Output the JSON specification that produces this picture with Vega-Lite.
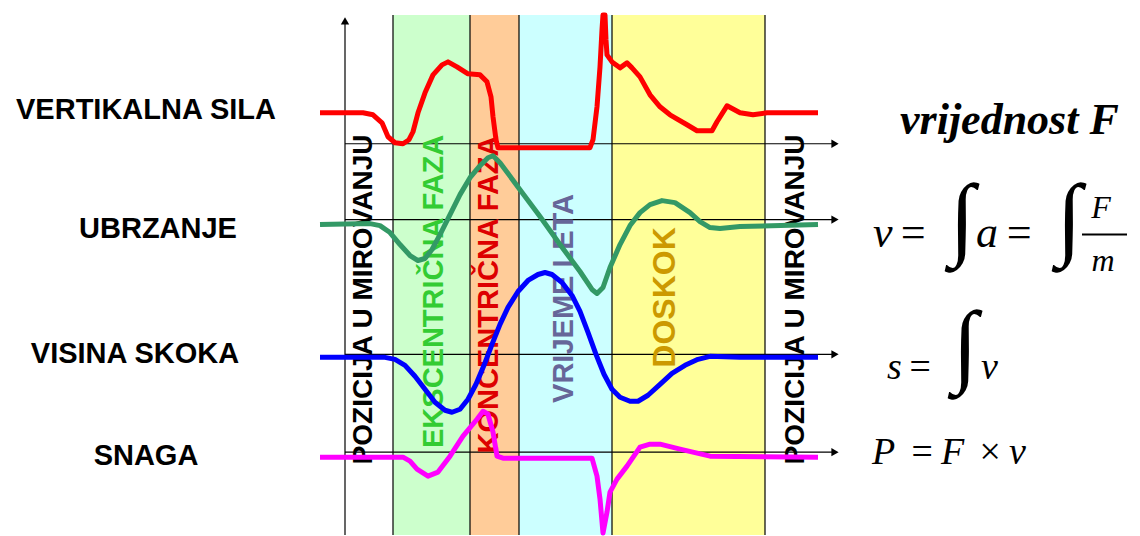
{
  "$schema": "https://vega.github.io/schema/vega-lite/v6.json",
  "width": 1140,
  "height": 536,
  "autosize": {"type": "fit", "contains": "padding"},
  "padding": 0,
  "background": "white",
  "config": {"view": {"stroke": null}},
  "resolve": {"scale": {"color": "independent"}},
  "datasets": {
    "bands": [
      {"phase": "eks", "t0": 393, "t1": 470, "top": 15, "bottom": 536},
      {"phase": "kon", "t0": 470, "t1": 519, "top": 15, "bottom": 536},
      {"phase": "let", "t0": 519, "t1": 612, "top": 15, "bottom": 536},
      {"phase": "dos", "t0": 612, "t1": 765, "top": 15, "bottom": 536}
    ],
    "vlines": [
      {"t": 345, "top": 22, "bottom": 536},
      {"t": 393, "top": 15, "bottom": 536},
      {"t": 470, "top": 15, "bottom": 536},
      {"t": 519, "top": 15, "bottom": 536},
      {"t": 612, "top": 15, "bottom": 536},
      {"t": 765, "top": 15, "bottom": 536}
    ],
    "hlines": [
      {"v": 144, "t0": 345, "t1": 832, "tip": 835},
      {"v": 220, "t0": 345, "t1": 832, "tip": 835},
      {"v": 355, "t0": 345, "t1": 832, "tip": 835},
      {"v": 453, "t0": 345, "t1": 832, "tip": 835}
    ],
    "curves": [
      {"s": "F", "t": 320, "v": 113}, {"s": "F", "t": 363, "v": 113}, {"s": "F", "t": 373, "v": 115}, {"s": "F", "t": 382, "v": 123},
      {"s": "F", "t": 388, "v": 137}, {"s": "F", "t": 395, "v": 143}, {"s": "F", "t": 403, "v": 144}, {"s": "F", "t": 409, "v": 140},
      {"s": "F", "t": 413, "v": 132}, {"s": "F", "t": 418, "v": 113}, {"s": "F", "t": 425, "v": 93}, {"s": "F", "t": 433, "v": 75},
      {"s": "F", "t": 442, "v": 65}, {"s": "F", "t": 448, "v": 62}, {"s": "F", "t": 457, "v": 67}, {"s": "F", "t": 468, "v": 74},
      {"s": "F", "t": 480, "v": 75}, {"s": "F", "t": 487, "v": 82}, {"s": "F", "t": 491, "v": 97}, {"s": "F", "t": 493, "v": 117},
      {"s": "F", "t": 496, "v": 140}, {"s": "F", "t": 498, "v": 148}, {"s": "F", "t": 507, "v": 148}, {"s": "F", "t": 590, "v": 148},
      {"s": "F", "t": 593, "v": 140}, {"s": "F", "t": 597, "v": 107}, {"s": "F", "t": 600, "v": 67}, {"s": "F", "t": 602, "v": 30},
      {"s": "F", "t": 603, "v": 15}, {"s": "F", "t": 605, "v": 15}, {"s": "F", "t": 606, "v": 40}, {"s": "F", "t": 607, "v": 55},
      {"s": "F", "t": 612, "v": 62}, {"s": "F", "t": 620, "v": 68}, {"s": "F", "t": 627, "v": 63}, {"s": "F", "t": 632, "v": 68},
      {"s": "F", "t": 640, "v": 77}, {"s": "F", "t": 650, "v": 95}, {"s": "F", "t": 660, "v": 107}, {"s": "F", "t": 670, "v": 115},
      {"s": "F", "t": 687, "v": 125}, {"s": "F", "t": 697, "v": 131}, {"s": "F", "t": 712, "v": 131}, {"s": "F", "t": 717, "v": 122},
      {"s": "F", "t": 727, "v": 106}, {"s": "F", "t": 740, "v": 113}, {"s": "F", "t": 753, "v": 115}, {"s": "F", "t": 767, "v": 113},
      {"s": "F", "t": 818, "v": 113},

      {"s": "a", "t": 320, "v": 225}, {"s": "a", "t": 370, "v": 224}, {"s": "a", "t": 380, "v": 226}, {"s": "a", "t": 390, "v": 233},
      {"s": "a", "t": 400, "v": 245}, {"s": "a", "t": 410, "v": 256}, {"s": "a", "t": 418, "v": 261}, {"s": "a", "t": 425, "v": 259},
      {"s": "a", "t": 432, "v": 250}, {"s": "a", "t": 440, "v": 235}, {"s": "a", "t": 450, "v": 215}, {"s": "a", "t": 460, "v": 195},
      {"s": "a", "t": 470, "v": 178}, {"s": "a", "t": 480, "v": 166}, {"s": "a", "t": 488, "v": 158}, {"s": "a", "t": 493, "v": 156},
      {"s": "a", "t": 500, "v": 163}, {"s": "a", "t": 520, "v": 190}, {"s": "a", "t": 540, "v": 217}, {"s": "a", "t": 560, "v": 245},
      {"s": "a", "t": 580, "v": 272}, {"s": "a", "t": 592, "v": 290}, {"s": "a", "t": 597, "v": 294}, {"s": "a", "t": 603, "v": 288},
      {"s": "a", "t": 610, "v": 268}, {"s": "a", "t": 620, "v": 245}, {"s": "a", "t": 630, "v": 226}, {"s": "a", "t": 640, "v": 213},
      {"s": "a", "t": 650, "v": 205}, {"s": "a", "t": 662, "v": 201}, {"s": "a", "t": 675, "v": 203}, {"s": "a", "t": 690, "v": 213},
      {"s": "a", "t": 700, "v": 222}, {"s": "a", "t": 710, "v": 228}, {"s": "a", "t": 720, "v": 229}, {"s": "a", "t": 740, "v": 227},
      {"s": "a", "t": 818, "v": 225},

      {"s": "h", "t": 320, "v": 358}, {"s": "h", "t": 385, "v": 358}, {"s": "h", "t": 395, "v": 360}, {"s": "h", "t": 405, "v": 366},
      {"s": "h", "t": 415, "v": 377}, {"s": "h", "t": 425, "v": 390}, {"s": "h", "t": 435, "v": 403}, {"s": "h", "t": 445, "v": 411},
      {"s": "h", "t": 452, "v": 413}, {"s": "h", "t": 460, "v": 410}, {"s": "h", "t": 468, "v": 400}, {"s": "h", "t": 476, "v": 385},
      {"s": "h", "t": 484, "v": 366}, {"s": "h", "t": 492, "v": 345}, {"s": "h", "t": 500, "v": 325}, {"s": "h", "t": 508, "v": 308},
      {"s": "h", "t": 518, "v": 292}, {"s": "h", "t": 528, "v": 281}, {"s": "h", "t": 538, "v": 275}, {"s": "h", "t": 545, "v": 273},
      {"s": "h", "t": 552, "v": 275}, {"s": "h", "t": 562, "v": 283}, {"s": "h", "t": 572, "v": 296}, {"s": "h", "t": 580, "v": 312},
      {"s": "h", "t": 588, "v": 333}, {"s": "h", "t": 596, "v": 355}, {"s": "h", "t": 604, "v": 375}, {"s": "h", "t": 612, "v": 390},
      {"s": "h", "t": 620, "v": 398}, {"s": "h", "t": 630, "v": 402}, {"s": "h", "t": 638, "v": 402}, {"s": "h", "t": 648, "v": 396},
      {"s": "h", "t": 660, "v": 385}, {"s": "h", "t": 672, "v": 374}, {"s": "h", "t": 685, "v": 366}, {"s": "h", "t": 698, "v": 360},
      {"s": "h", "t": 710, "v": 357}, {"s": "h", "t": 740, "v": 358}, {"s": "h", "t": 818, "v": 358},

      {"s": "P", "t": 320, "v": 458}, {"s": "P", "t": 403, "v": 458}, {"s": "P", "t": 410, "v": 462}, {"s": "P", "t": 417, "v": 470},
      {"s": "P", "t": 428, "v": 477}, {"s": "P", "t": 438, "v": 473}, {"s": "P", "t": 450, "v": 457}, {"s": "P", "t": 463, "v": 437},
      {"s": "P", "t": 477, "v": 420}, {"s": "P", "t": 483, "v": 412}, {"s": "P", "t": 488, "v": 415}, {"s": "P", "t": 493, "v": 433},
      {"s": "P", "t": 497, "v": 457}, {"s": "P", "t": 503, "v": 459}, {"s": "P", "t": 592, "v": 459}, {"s": "P", "t": 597, "v": 477},
      {"s": "P", "t": 600, "v": 500}, {"s": "P", "t": 603, "v": 534}, {"s": "P", "t": 607, "v": 513}, {"s": "P", "t": 610, "v": 493},
      {"s": "P", "t": 617, "v": 480}, {"s": "P", "t": 627, "v": 467}, {"s": "P", "t": 640, "v": 448}, {"s": "P", "t": 650, "v": 445},
      {"s": "P", "t": 660, "v": 445}, {"s": "P", "t": 680, "v": 450}, {"s": "P", "t": 710, "v": 457}, {"s": "P", "t": 818, "v": 458}
    ],
    "leftLabels": [
      {"text": "VERTIKALNA SILA", "t": 146, "v": 110},
      {"text": "UBRZANJE", "t": 158, "v": 229},
      {"text": "VISINA SKOKA", "t": 135, "v": 355},
      {"text": "SNAGA", "t": 146, "v": 457}
    ],
    "rotLabels": [
      {"text": "POZICIJA U MIROVANJU", "t": 364, "v": 300},
      {"text": "POZICIJA U MIROVANJU", "t": 796, "v": 300}
    ],
    "phaseLabels": [
      {"text": "EKSCENTRIČNA FAZA", "t": 434, "v": 292, "phase": "eks"},
      {"text": "KONCENTRIČNA FAZA", "t": 489, "v": 295, "phase": "kon"},
      {"text": "VRIJEME LETA", "t": 564, "v": 299, "phase": "let"},
      {"text": "DOSKOK", "t": 665, "v": 298, "phase": "dos"}
    ],
    "formula": [
      {"text": "v", "t": 873, "v": 247, "kind": "big"},
      {"text": "=", "t": 898, "v": 247, "kind": "big"},
      {"text": "a", "t": 976, "v": 247, "kind": "big"},
      {"text": "=", "t": 1004, "v": 247, "kind": "big"},
      {"text": "F", "t": 1101, "v": 218, "kind": "frac"},
      {"text": "m", "t": 1103, "v": 272, "kind": "frac"},
      {"text": "s", "t": 887, "v": 380, "kind": "mid"},
      {"text": "=", "t": 907, "v": 380, "kind": "mid"},
      {"text": "v", "t": 981, "v": 380, "kind": "mid"},
      {"text": "P", "t": 872, "v": 465, "kind": "mid"},
      {"text": "=", "t": 909, "v": 465, "kind": "mid"},
      {"text": "F", "t": 941, "v": 465, "kind": "mid"},
      {"text": "×", "t": 977, "v": 465, "kind": "mid"},
      {"text": "v", "t": 1009, "v": 465, "kind": "mid"},
      {"text": "∫", "t": 962, "v": 248, "kind": "int"},
      {"text": "∫", "t": 1069, "v": 248, "kind": "int"},
      {"text": "∫", "t": 965, "v": 376, "kind": "int"},
      {"text": "vrijednost F", "t": 900, "v": 134, "kind": "title"}
    ],
    "fracBar": [{"t0": 1082, "t1": 1127, "v": 235}]
  },
  "layer": [
    {
      "data": {"name": "bands"},
      "mark": {"type": "rect"},
      "encoding": {
        "x": {"field": "t0", "type": "quantitative", "scale": {"domain": [0, 1140], "nice": false, "zero": false}, "axis": null},
        "x2": {"field": "t1"},
        "y": {"field": "top", "type": "quantitative", "scale": {"domain": [0, 536], "reverse": true, "nice": false, "zero": false}, "axis": null},
        "y2": {"field": "bottom"},
        "color": {"field": "phase", "type": "nominal", "scale": {"domain": ["eks", "kon", "let", "dos"], "range": ["#ccffcc", "#ffcc99", "#ccffff", "#ffff99"]}, "legend": null}
      }
    },
    {
      "data": {"name": "vlines"},
      "mark": {"type": "rule", "color": "#000000", "strokeWidth": 1.2},
      "encoding": {
        "x": {"field": "t", "type": "quantitative", "scale": {"domain": [0, 1140], "nice": false, "zero": false}, "axis": null},
        "y": {"field": "top", "type": "quantitative", "scale": {"domain": [0, 536], "reverse": true, "nice": false, "zero": false}, "axis": null},
        "y2": {"field": "bottom"}
      }
    },
    {
      "data": {"name": "hlines"},
      "mark": {"type": "rule", "color": "#000000", "strokeWidth": 1.2},
      "encoding": {
        "x": {"field": "t0", "type": "quantitative", "scale": {"domain": [0, 1140], "nice": false, "zero": false}, "axis": null},
        "x2": {"field": "t1"},
        "y": {"field": "v", "type": "quantitative", "scale": {"domain": [0, 536], "reverse": true, "nice": false, "zero": false}, "axis": null}
      }
    },
    {
      "data": {"name": "hlines"},
      "mark": {"type": "point", "shape": "triangle-right", "filled": true, "color": "#000000", "size": 70, "opacity": 1},
      "encoding": {
        "x": {"field": "tip", "type": "quantitative", "scale": {"domain": [0, 1140], "nice": false, "zero": false}, "axis": null},
        "y": {"field": "v", "type": "quantitative", "scale": {"domain": [0, 536], "reverse": true, "nice": false, "zero": false}, "axis": null}
      }
    },
    {
      "data": {"values": [{"t": 345, "v": 21}]},
      "mark": {"type": "point", "shape": "triangle-up", "filled": true, "color": "#000000", "size": 70, "opacity": 1},
      "encoding": {
        "x": {"field": "t", "type": "quantitative", "scale": {"domain": [0, 1140], "nice": false, "zero": false}, "axis": null},
        "y": {"field": "v", "type": "quantitative", "scale": {"domain": [0, 536], "reverse": true, "nice": false, "zero": false}, "axis": null}
      }
    },
    {
      "data": {"name": "rotLabels"},
      "mark": {"type": "text", "angle": 270, "align": "center", "baseline": "middle", "font": "Liberation Sans", "fontWeight": "bold", "fontSize": 28, "color": "#000000"},
      "encoding": {
        "x": {"field": "t", "type": "quantitative", "scale": {"domain": [0, 1140], "nice": false, "zero": false}, "axis": null},
        "y": {"field": "v", "type": "quantitative", "scale": {"domain": [0, 536], "reverse": true, "nice": false, "zero": false}, "axis": null},
        "text": {"field": "text"}
      }
    },
    {
      "data": {"name": "phaseLabels"},
      "transform": [{"filter": "datum.phase !== 'dos'"}],
      "mark": {"type": "text", "angle": 270, "align": "center", "baseline": "middle", "font": "Liberation Sans", "fontWeight": "bold", "fontSize": 29},
      "encoding": {
        "x": {"field": "t", "type": "quantitative", "scale": {"domain": [0, 1140], "nice": false, "zero": false}, "axis": null},
        "y": {"field": "v", "type": "quantitative", "scale": {"domain": [0, 536], "reverse": true, "nice": false, "zero": false}, "axis": null},
        "text": {"field": "text"},
        "color": {"field": "phase", "type": "nominal", "scale": {"domain": ["eks", "kon", "let"], "range": ["#33cc33", "#dd0000", "#666699"]}, "legend": null}
      }
    },
    {
      "data": {"name": "phaseLabels"},
      "transform": [{"filter": "datum.phase === 'dos'"}],
      "mark": {"type": "text", "angle": 270, "align": "center", "baseline": "middle", "font": "Liberation Sans", "fontWeight": "bold", "fontSize": 32, "color": "#cc9900"},
      "encoding": {
        "x": {"field": "t", "type": "quantitative", "scale": {"domain": [0, 1140], "nice": false, "zero": false}, "axis": null},
        "y": {"field": "v", "type": "quantitative", "scale": {"domain": [0, 536], "reverse": true, "nice": false, "zero": false}, "axis": null},
        "text": {"field": "text"}
      }
    },
    {
      "data": {"name": "curves"},
      "mark": {"type": "line", "strokeWidth": 5, "strokeJoin": "round", "strokeCap": "butt"},
      "encoding": {
        "x": {"field": "t", "type": "quantitative", "scale": {"domain": [0, 1140], "nice": false, "zero": false}, "axis": null},
        "y": {"field": "v", "type": "quantitative", "scale": {"domain": [0, 536], "reverse": true, "nice": false, "zero": false}, "axis": null},
        "color": {"field": "s", "type": "nominal", "scale": {"domain": ["F", "a", "h", "P"], "range": ["#ff0000", "#339966", "#0000ff", "#ff00ff"]}, "legend": null}
      }
    },
    {
      "data": {"name": "leftLabels"},
      "mark": {"type": "text", "align": "center", "baseline": "middle", "font": "Liberation Sans", "fontWeight": "bold", "fontSize": 29, "color": "#000000"},
      "encoding": {
        "x": {"field": "t", "type": "quantitative", "scale": {"domain": [0, 1140], "nice": false, "zero": false}, "axis": null},
        "y": {"field": "v", "type": "quantitative", "scale": {"domain": [0, 536], "reverse": true, "nice": false, "zero": false}, "axis": null},
        "text": {"field": "text"}
      }
    },
    {
      "data": {"name": "formula"},
      "transform": [{"filter": "datum.kind === 'big'"}],
      "mark": {"type": "text", "align": "left", "baseline": "alphabetic", "font": "Liberation Serif", "fontStyle": "italic", "fontSize": 44, "color": "#000000"},
      "encoding": {
        "x": {"field": "t", "type": "quantitative", "scale": {"domain": [0, 1140], "nice": false, "zero": false}, "axis": null},
        "y": {"field": "v", "type": "quantitative", "scale": {"domain": [0, 536], "reverse": true, "nice": false, "zero": false}, "axis": null},
        "text": {"field": "text"}
      }
    },
    {
      "data": {"name": "formula"},
      "transform": [{"filter": "datum.kind === 'frac'"}],
      "mark": {"type": "text", "align": "center", "baseline": "alphabetic", "font": "Liberation Serif", "fontStyle": "italic", "fontSize": 32, "color": "#000000"},
      "encoding": {
        "x": {"field": "t", "type": "quantitative", "scale": {"domain": [0, 1140], "nice": false, "zero": false}, "axis": null},
        "y": {"field": "v", "type": "quantitative", "scale": {"domain": [0, 536], "reverse": true, "nice": false, "zero": false}, "axis": null},
        "text": {"field": "text"}
      }
    },
    {
      "data": {"name": "formula"},
      "transform": [{"filter": "datum.kind === 'mid'"}],
      "mark": {"type": "text", "align": "left", "baseline": "alphabetic", "font": "Liberation Serif", "fontStyle": "italic", "fontSize": 38, "color": "#000000"},
      "encoding": {
        "x": {"field": "t", "type": "quantitative", "scale": {"domain": [0, 1140], "nice": false, "zero": false}, "axis": null},
        "y": {"field": "v", "type": "quantitative", "scale": {"domain": [0, 536], "reverse": true, "nice": false, "zero": false}, "axis": null},
        "text": {"field": "text"}
      }
    },
    {
      "data": {"name": "formula"},
      "transform": [{"filter": "datum.kind === 'int'"}],
      "mark": {"type": "text", "align": "center", "baseline": "alphabetic", "font": "Liberation Serif", "fontSize": 92, "color": "#000000"},
      "encoding": {
        "x": {"field": "t", "type": "quantitative", "scale": {"domain": [0, 1140], "nice": false, "zero": false}, "axis": null},
        "y": {"field": "v", "type": "quantitative", "scale": {"domain": [0, 536], "reverse": true, "nice": false, "zero": false}, "axis": null},
        "text": {"field": "text"}
      }
    },
    {
      "data": {"name": "formula"},
      "transform": [{"filter": "datum.kind === 'title'"}],
      "mark": {"type": "text", "align": "left", "baseline": "alphabetic", "font": "Liberation Serif", "fontStyle": "italic", "fontWeight": "bold", "fontSize": 44, "color": "#000000"},
      "encoding": {
        "x": {"field": "t", "type": "quantitative", "scale": {"domain": [0, 1140], "nice": false, "zero": false}, "axis": null},
        "y": {"field": "v", "type": "quantitative", "scale": {"domain": [0, 536], "reverse": true, "nice": false, "zero": false}, "axis": null},
        "text": {"field": "text"}
      }
    },
    {
      "data": {"name": "fracBar"},
      "mark": {"type": "rule", "color": "#000000", "strokeWidth": 2},
      "encoding": {
        "x": {"field": "t0", "type": "quantitative", "scale": {"domain": [0, 1140], "nice": false, "zero": false}, "axis": null},
        "x2": {"field": "t1"},
        "y": {"field": "v", "type": "quantitative", "scale": {"domain": [0, 536], "reverse": true, "nice": false, "zero": false}, "axis": null}
      }
    }
  ]
}
